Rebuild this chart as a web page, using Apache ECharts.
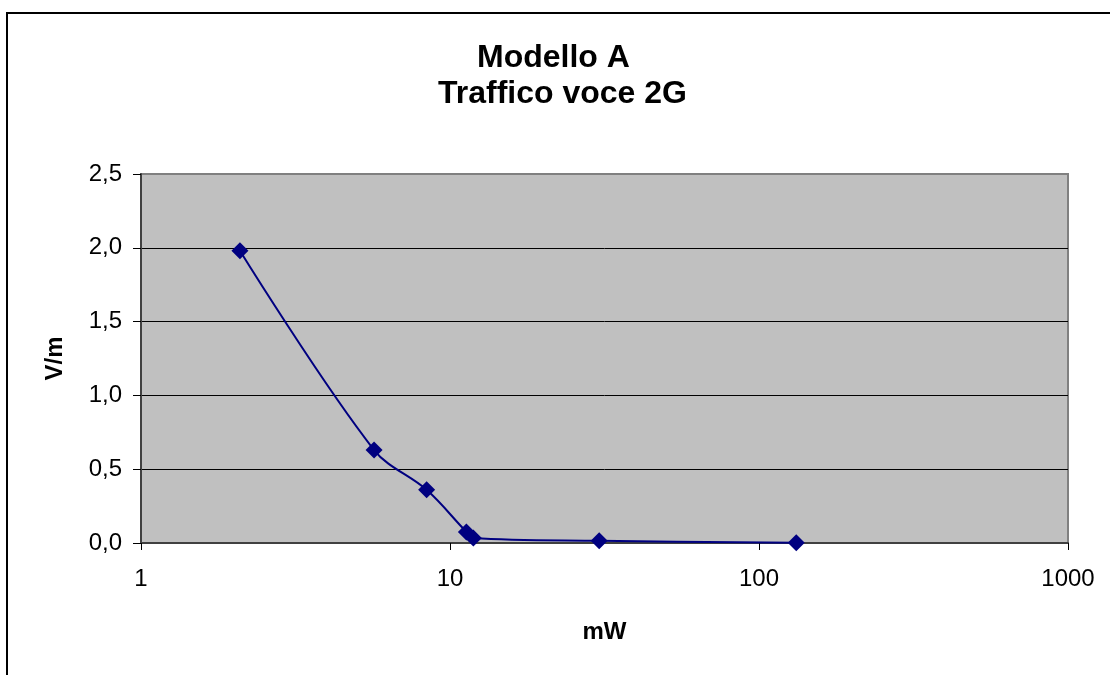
<!DOCTYPE html>
<html>
<head>
<meta charset="utf-8">
<script src="https://cdn.jsdelivr.net/npm/echarts@6/dist/echarts.min.js"></script>
<style>
html,body{margin:0;padding:0;background:#fff;}
#chart{width:1110px;height:675px;}
</style>
</head>
<body>
<div id="chart"></div>
<script>
// Data
var powerMW = [2.09, 5.68, 8.4, 11.3, 11.9, 30.4, 132];
var fieldVm = [1.98, 0.63, 0.36, 0.075, 0.034, 0.015, 0.002];
var titleLine1 = 'Modello A';
var titleLine2 = 'Traffico voce 2G';
var xName = 'mW';
var yName = 'V/m';

var points = powerMW.map(function (x, i) { return [x, fieldVm[i]]; });

var chart = echarts.init(document.getElementById('chart'), null, {renderer: 'canvas'});
var font = 'Liberation Sans, Arial, sans-serif';
chart.setOption({
  backgroundColor: '#ffffff',
  animation: false,
  graphic: [{
    type: 'rect',
    shape: {x: 7, y: 13, width: 1200, height: 800},
    style: {fill: 'none', stroke: '#000', lineWidth: 2},
    z: 100
  }],
  title: [{
    text: titleLine1,
    left: 477,
    top: 42,
    padding: 0,
    textStyle: {fontFamily: font, fontWeight: 'bold', fontSize: 32, color: '#000'}
  }, {
    text: titleLine2,
    left: 438,
    top: 78,
    padding: 0,
    textStyle: {fontFamily: font, fontWeight: 'bold', fontSize: 32, color: '#000'}
  }],
  grid: {
    left: 141, top: 174, right: 42, bottom: 132,
    show: true,
    backgroundColor: '#c0c0c0',
    borderColor: '#808080',
    borderWidth: 2
  },
  xAxis: {
    type: 'log',
    logBase: 10,
    min: 1,
    max: 1000,
    name: xName,
    nameLocation: 'middle',
    nameGap: 77,
    nameTextStyle: {fontFamily: font, fontWeight: 'bold', fontSize: 24, color: '#000'},
    axisLine: {onZero: false, lineStyle: {color: '#404040', width: 2}},
    axisTick: {show: true, length: 7, lineStyle: {color: '#000', width: 1}},
    minorTick: {show: false},
    splitLine: {show: false},
    axisLabel: {fontFamily: font, fontSize: 24, color: '#000', margin: 24,
      formatter: function (v) { return String(Math.round(v)); }}
  },
  yAxis: {
    type: 'value',
    min: 0,
    max: 2.5,
    interval: 0.5,
    name: yName,
    nameLocation: 'middle',
    nameGap: 74,
    nameRotate: 90,
    nameTextStyle: {fontFamily: font, fontWeight: 'bold', fontSize: 24, color: '#000'},
    axisLine: {show: true, lineStyle: {color: '#404040', width: 2}},
    axisTick: {show: true, length: 8, lineStyle: {color: '#000', width: 1}},
    splitLine: {show: true, showMinLine: false, showMaxLine: false, lineStyle: {color: '#000', width: 1}},
    axisLabel: {fontFamily: font, fontSize: 24, color: '#000', margin: 19,
      formatter: function (v) { return v.toFixed(1).replace('.', ','); }}
  },
  series: [{
    type: 'line',
    data: points,
    smooth: 0.35,
    symbol: 'diamond',
    symbolSize: 17,
    lineStyle: {color: '#000080', width: 2},
    itemStyle: {color: '#000080'},
    z: 5
  }]
});
</script>
</body>
</html>
